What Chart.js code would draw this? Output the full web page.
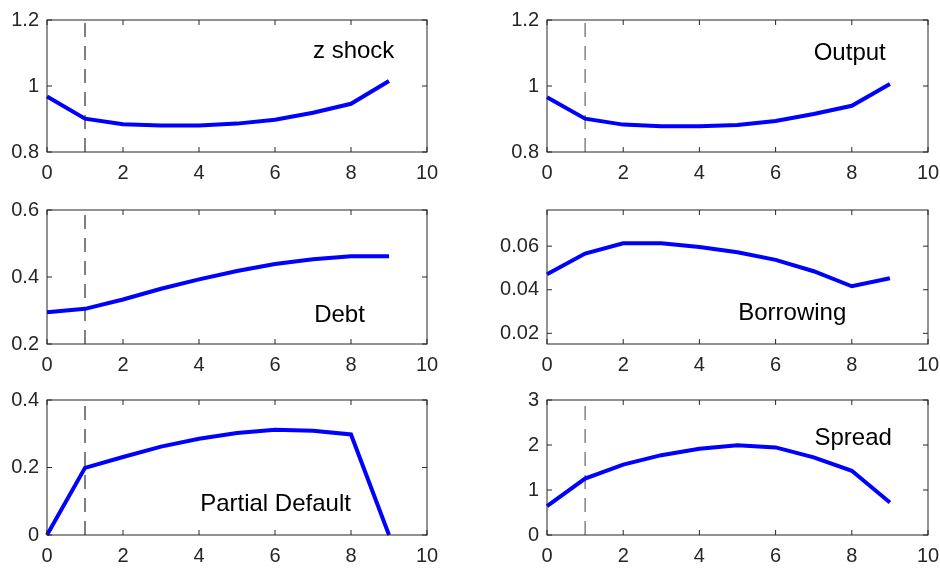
<!DOCTYPE html>
<html>
<head>
<meta charset="utf-8">
<script src="https://cdn.jsdelivr.net/npm/chart.js@4.4.1/dist/chart.umd.min.js"></script>
<style>
  html, body { margin: 0; padding: 0; background: #fff; }
  #wrap { position: relative; width: 940px; height: 573px; overflow: hidden; }
  #wrap canvas { position: absolute; }
</style>
</head>
<body>
<div id="wrap"></div>
<script>
// values
const periods = [0, 1, 2, 3, 4, 5, 6, 7, 8, 9];
const xTicks = [0, 2, 4, 6, 8, 10];
const shockPeriod = 1;

const zShock = [0.968, 0.901, 0.884, 0.880, 0.880, 0.886, 0.898, 0.919, 0.946, 1.015];
const output = [0.966, 0.901, 0.883, 0.878, 0.878, 0.882, 0.894, 0.915, 0.940, 1.006];
const debt = [0.295, 0.305, 0.333, 0.365, 0.393, 0.418, 0.439, 0.453, 0.462, 0.462];
const borrowing = [0.0471, 0.0566, 0.0613, 0.0613, 0.0596, 0.0572, 0.0537, 0.0485, 0.0416, 0.0453];
const partialDefault = [0, 0.199, 0.231, 0.262, 0.285, 0.302, 0.3115, 0.309, 0.298, 0];
const spread = [0.642, 1.255, 1.565, 1.774, 1.918, 1.997, 1.947, 1.724, 1.428, 0.721];

const zShockTicks = [0.8, 1, 1.2];
const outputTicks = [0.8, 1, 1.2];
const debtTicks = [0.2, 0.4, 0.6];
const borrowingTicks = [0.02, 0.04, 0.06];
const partialDefaultTicks = [0, 0.2, 0.4];
const spreadTicks = [0, 1, 2, 3];

const FONT = "'Liberation Sans', Arial, Helvetica, sans-serif";
const AXIS_COLOR = '#262626';

// one entry per subplot; the right column canvas runs past the window edge
// so Chart.js does not shrink the plot to fit the clipped "10" label
const panels = [
  { data: zShock, ticks: zShockTicks, min: 0.8, max: 1.2, label: 'z shock', at: [7.0, 1.086], dash: true,
    box: { x: 0, y: 0, w: 470, h: 190, left: 47, right: 427, top: 13, bottom: 152 } },
  { data: output, ticks: outputTicks, min: 0.8, max: 1.2, label: 'Output', at: [7.0, 1.079], dash: true,
    box: { x: 470, y: 0, w: 500, h: 190, left: 77, right: 458, top: 13, bottom: 152 } },
  { data: debt, ticks: debtTicks, min: 0.2, max: 0.6, label: 'Debt', at: [7.03, 0.267], dash: true,
    box: { x: 0, y: 190, w: 470, h: 190, left: 47, right: 427, top: 15, bottom: 154 } },
  { data: borrowing, ticks: borrowingTicks, min: 0.0151, max: 0.0766, label: 'Borrowing', at: [5.02, 0.0261], dash: false,
    box: { x: 470, y: 190, w: 500, h: 190, left: 77, right: 458, top: 15, bottom: 154 } },
  { data: partialDefault, ticks: partialDefaultTicks, min: 0, max: 0.4, label: 'Partial Default', at: [4.03, 0.070], dash: true,
    box: { x: 0, y: 380, w: 470, h: 193, left: 47, right: 427, top: 17, bottom: 155 } },
  { data: spread, ticks: spreadTicks, min: 0, max: 3, label: 'Spread', at: [7.02, 1.99], dash: true,
    box: { x: 470, y: 380, w: 500, h: 193, left: 77, right: 458, top: 17, bottom: 155 } }
];

// MATLAB-like box with inward ticks on all four sides, plus the in-axes label
const boxPlugin = {
  id: 'matlabBox',
  afterDatasetsDraw(chart, args, opts) {
    const { ctx, chartArea: a, scales } = chart;
    const tl = 5;
    ctx.save();
    ctx.strokeStyle = AXIS_COLOR;
    ctx.lineWidth = 1;
    ctx.strokeRect(a.left, a.top, a.right - a.left, a.bottom - a.top);
    ctx.beginPath();
    scales.x.ticks.forEach(t => {
      const px = scales.x.getPixelForValue(t.value);
      ctx.moveTo(px, a.bottom); ctx.lineTo(px, a.bottom - tl);
      ctx.moveTo(px, a.top); ctx.lineTo(px, a.top + tl);
    });
    scales.y.ticks.forEach(t => {
      const py = scales.y.getPixelForValue(t.value);
      ctx.moveTo(a.left, py); ctx.lineTo(a.left + tl, py);
      ctx.moveTo(a.right, py); ctx.lineTo(a.right - tl, py);
    });
    ctx.stroke();

    ctx.fillStyle = '#000';
    ctx.font = '24px ' + FONT;
    ctx.textAlign = 'left';
    ctx.textBaseline = 'alphabetic';
    ctx.fillText(opts.text, scales.x.getPixelForValue(opts.at[0]), scales.y.getPixelForValue(opts.at[1]));
    ctx.restore();
  }
};

const wrap = document.getElementById('wrap');

panels.forEach(p => {
  const b = p.box;
  const canvas = document.createElement('canvas');
  canvas.width = b.w;
  canvas.height = b.h;
  canvas.style.left = b.x + 'px';
  canvas.style.top = b.y + 'px';
  canvas.style.width = b.w + 'px';
  canvas.style.height = b.h + 'px';
  wrap.appendChild(canvas);

  const datasets = [{
    data: periods.map((x, i) => ({ x: x, y: p.data[i] })),
    borderColor: '#0000ff',
    borderWidth: 4,
    pointRadius: 0,
    tension: 0,
    clip: false
  }];
  if (p.dash) {
    datasets.push({
      data: [{ x: shockPeriod, y: p.min }, { x: shockPeriod, y: p.max }],
      borderColor: b.x === 0 ? '#000' : '#444',
      borderWidth: 1,
      borderDash: [14, 9],
      pointRadius: 0
    });
  }

  new Chart(canvas.getContext('2d'), {
    type: 'line',
    data: { datasets: datasets },
    plugins: [boxPlugin],
    options: {
      responsive: false,
      animation: false,
      events: [],
      layout: { padding: { left: 0, top: b.top, right: b.w - b.right, bottom: 0 } },
      plugins: {
        legend: { display: false },
        tooltip: { enabled: false },
        matlabBox: { text: p.label, at: p.at }
      },
      scales: {
        x: {
          type: 'linear',
          min: 0,
          max: 10,
          afterBuildTicks: s => { s.ticks = xTicks.map(v => ({ value: v })); },
          afterFit: s => { s.height = b.h - b.bottom; },
          grid: { display: false, drawTicks: false },
          border: { display: false },
          ticks: {
            padding: 9,
            color: AXIS_COLOR,
            font: { family: FONT, size: 20 },
            callback: v => String(v),
            maxRotation: 0
          }
        },
        y: {
          type: 'linear',
          min: p.min,
          max: p.max,
          afterBuildTicks: s => { s.ticks = p.ticks.map(v => ({ value: v })); },
          afterFit: s => { s.width = b.left; },
          grid: { display: false, drawTicks: false },
          border: { display: false },
          ticks: {
            padding: 8,
            color: AXIS_COLOR,
            font: { family: FONT, size: 20 },
            callback: v => String(v)
          }
        }
      }
    }
  });
});
</script>
</body>
</html>
